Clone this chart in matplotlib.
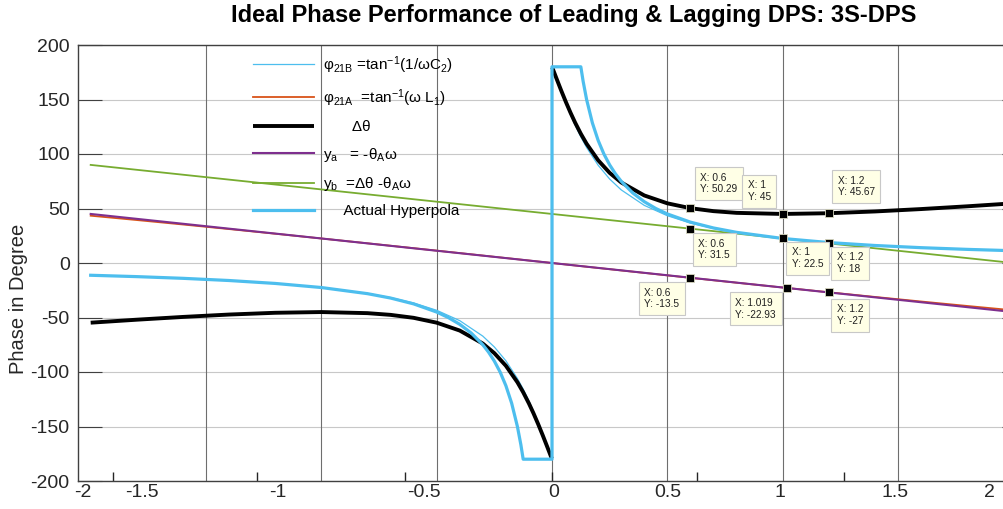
import matplotlib
matplotlib.use("Agg")
import matplotlib.pyplot as plt

plt.rcParams['font.family'] = ['Liberation Sans', 'DejaVu Sans']
plt.rcParams['mathtext.fontset'] = 'custom'
plt.rcParams['mathtext.rm'] = 'Liberation Sans'
plt.rcParams['mathtext.it'] = 'Liberation Sans:italic'
plt.rcParams['mathtext.bf'] = 'Liberation Sans:bold'
plt.rcParams['mathtext.default'] = 'regular'
plt.rcParams['axes.unicode_minus'] = False

# ---------------- data ----------------
# omega samples (negative branch and positive branch)
w_neg = [-2.0, -1.8, -1.6, -1.4, -1.2, -1.0, -0.8, -0.7, -0.6, -0.5, -0.4, -0.3,
         -0.25, -0.2, -0.15, -0.125, -0.1, -0.08, -0.06, -0.04, -0.02, -0.01, -0.001]
w_pos = [0.001, 0.01, 0.02, 0.04, 0.06, 0.08, 0.1, 0.125, 0.15, 0.2, 0.25, 0.3,
         0.4, 0.5, 0.6, 0.7, 0.8, 1.0, 1.2, 1.4, 1.6, 1.8, 2.0]

# phi21B = tan^-1(1/wC2)
phiB_neg = [-11.36, -12.61, -14.17, -16.17, -18.82, -22.5, -27.93, -31.73, -36.68, -43.39,
            -52.88, -67.09, -77.02, -89.69, -105.96, -115.71, -126.61, -136.19, -146.43,
            -157.26, -168.52, -174.24, -179.42]
phiB_pos = [179.42, 174.24, 168.52, 157.26, 146.43, 136.19, 126.61, 115.71, 105.96, 89.69,
            77.02, 67.09, 52.88, 43.39, 36.68, 31.73, 27.93, 22.5, 18.82, 16.17, 14.17,
            12.61, 11.36]

# phi21A = tan^-1(w L1)
phiA_neg = [43.39, 39.40, 35.31, 31.12, 26.85, 22.5, 18.08, 15.85, 13.61, 11.36, 9.10,
            6.83, 5.69, 4.56, 3.42, 2.85, 2.28, 1.82, 1.37, 0.91, 0.46, 0.23, 0.02]
phiA_pos = [-0.02, -0.23, -0.46, -0.91, -1.37, -1.82, -2.28, -2.85, -3.42, -4.56, -5.69,
            -6.83, -9.10, -11.36, -13.61, -15.85, -18.08, -22.5, -26.85, -31.12, -35.31,
            -39.40, -43.39]

# delta theta
dth_neg = [-54.75, -52.01, -49.48, -47.29, -45.67, -45.0, -46.01, -47.58, -50.29, -54.75,
           -61.98, -73.92, -82.71, -94.25, -109.38, -118.56, -128.89, -138.01, -147.80,
           -158.17, -168.98, -174.47, -179.44]
dth_pos = [179.44, 174.47, 168.98, 158.17, 147.80, 138.01, 128.89, 118.56, 109.38, 94.25,
           82.71, 73.92, 61.98, 54.75, 50.29, 47.58, 46.01, 45.0, 45.67, 47.29, 49.48,
           52.01, 54.75]

# straight lines ya = -thetaA*w, yb = dtheta - thetaA*w
w_line = [-2.0, 2.0]
ya = [45.0, -45.0]
yb = [90.0, 0.0]

# actual hyperbola (clipped at +-180)
wh = [-2.0, -1.8, -1.6, -1.4, -1.2, -1.0, -0.8, -0.7, -0.6, -0.5, -0.45, -0.4, -0.35,
      -0.3, -0.275, -0.25, -0.225, -0.2, -0.175, -0.15, -0.135, -0.125, 0.0, 0.0,
      0.125, 0.135, 0.15, 0.175, 0.2, 0.225, 0.25, 0.275, 0.3, 0.35, 0.4, 0.45, 0.5,
      0.6, 0.7, 0.8, 1.0, 1.2, 1.4, 1.6, 1.8, 2.0]
hyp = [-11.25, -12.5, -14.06, -16.07, -18.75, -22.5, -28.13, -32.14, -37.5, -45.0,
       -50.0, -56.25, -64.29, -75.0, -81.82, -90.0, -100.0, -112.5, -128.57, -150.0,
       -166.67, -180.0, -180.0, 180.0,
       180.0, 166.67, 150.0, 128.57, 112.5, 100.0, 90.0, 81.82, 75.0, 64.29, 56.25, 50.0,
       45.0, 37.5, 32.14, 28.13, 22.5, 18.75, 16.07, 14.06, 12.5, 11.25]

# data tips
tip_x = [0.6, 1, 1.2, 0.6, 1, 1.2, 0.6, 1.019, 1.2]
tip_y = [50.29, 45, 45.67, 31.5, 22.5, 18, -13.5, -22.93, -27]

# axis labels
ytick_vals = [-200, -150, -100, -50, 0, 50, 100, 150, 200]
xtick_labels = ['-2', '-1.5', '-1', '-0.5', '0', '0.5', '1', '1.5', '2']

# ---------------- layout / style ----------------
xtick_label_pos = [-2.033, -1.776, -1.19, -0.557, 0.006, 0.50, 0.99, 1.487, 1.895]
xtick_mark_pos = [-1.905, -1.277, -0.637, 0.0, 0.63, 1.265, 1.895]
vgrid = [-1.5, -1.0, -0.5, 0.0, 0.5, 1.0, 1.5]

c_blue = '#4DBEEE'
c_orange = '#D95319'
c_purple = '#7E2F8E'
c_green = '#77AC30'

W, H = 1004, 509
fig = plt.figure(figsize=(W / 100, H / 100), dpi=100)
ax = fig.add_axes([78 / W, 28 / H, 948 / W, 436 / H])
ax.set_xlim(-2.055, 2.055)
ax.set_ylim(-200, 200)

for g in ytick_vals:
    ax.axhline(g, color='#c8c8c8', lw=0.8, zorder=0)
for g in vgrid:
    ax.axvline(g, color='#6e6e6e', lw=0.8, zorder=0)

ax.plot(w_neg, phiB_neg, color=c_blue, lw=0.9)
l1, = ax.plot(w_pos, phiB_pos, color=c_blue, lw=0.9, label='φ$_{21B}$ =tan$^{-1}$(1/ωC$_2$)')
ax.plot(w_neg, phiA_neg, color=c_orange, lw=1.3)
l2, = ax.plot(w_pos, phiA_pos, color=c_orange, lw=1.3, label='φ$_{21A}$  =tan$^{-1}$(ω L$_1$)')
ax.plot(w_neg, dth_neg, color='black', lw=2.8, solid_capstyle='butt')
l3, = ax.plot(w_pos, dth_pos, color='black', lw=2.8, solid_capstyle='butt', label='       Δθ')
l4, = ax.plot(w_line, ya, color=c_purple, lw=1.5, label='y$_a$   = -θ$_A$ω')
l5, = ax.plot(w_line, yb, color=c_green, lw=1.3, label='y$_b$  =Δθ -θ$_A$ω')
l6, = ax.plot(wh, hyp, color=c_blue, lw=2.3, label='     Actual Hyperpola')

ax.plot(tip_x, tip_y, linestyle='none', marker='s', markersize=6, mfc='black',
        mec='#d8d8c0', mew=0.6, zorder=9)

offsets = [(10, 14, 'left', 'bottom'), (-12, 12, 'right', 'bottom'), (9, 16, 'left', 'bottom'),
           (8, -10, 'left', 'top'), (9, -9, 'left', 'top'), (8, -9, 'left', 'top'),
           (-11, -10, 'right', 'top'), (-11, -10, 'right', 'top'), (8, -12, 'left', 'top')]
for x, y, (dx, dy, ha, va) in zip(tip_x, tip_y, offsets):
    ax.annotate(f'X: {x:g}\nY: {y:g}', xy=(x, y), xytext=(dx, dy), textcoords='offset pixels',
                ha=ha, va=va, multialignment='left', fontsize=7.3, color='#202020', zorder=10,
                bbox=dict(boxstyle='square,pad=0.55', fc='#FFFFE6', ec='#C8C8C8', lw=0.8))

for s in ['left', 'bottom', 'top']:
    ax.spines[s].set_color('#404040')
    ax.spines[s].set_linewidth(1.0)
ax.spines['right'].set_visible(False)

ax.set_yticks(ytick_vals)
ax.set_yticklabels([str(v) for v in ytick_vals])
ax.tick_params(axis='y', direction='in', length=17, width=0.8, color='#404040',
               left=True, right=True, labelsize=14, pad=6, labelcolor='#262626')
ax.set_xticks(xtick_label_pos)
ax.set_xticklabels(xtick_labels)
ax.tick_params(axis='x', which='major', length=0, labelsize=14, pad=2, labelcolor='#262626')
ax.set_xticks(xtick_mark_pos, minor=True)
ax.tick_params(axis='x', which='minor', direction='in', length=6.5, width=1.0, color='#262626')

ax.set_ylabel('Phase in Degree', fontsize=14.5, color='#262626')
ax.yaxis.set_label_coords((28 - 78) / 948, (481 - 299) / 436)

ax.set_title('Ideal Phase Performance of Leading & Lagging DPS: 3S-DPS', fontsize=17,
             fontweight='bold', x=(574 - 78) / 948, y=1 + 23 / 436, pad=0)

leg = ax.legend(handles=[l1, l2, l3, l4, l5, l6], loc='upper left',
                bbox_to_anchor=(253 / W, (H - 54) / H), bbox_transform=fig.transFigure,
                frameon=False, fontsize=11, handlelength=4.0, handletextpad=0.55,
                labelspacing=0.75, borderpad=0, borderaxespad=0)

fig.savefig('out.png', dpi=100)
